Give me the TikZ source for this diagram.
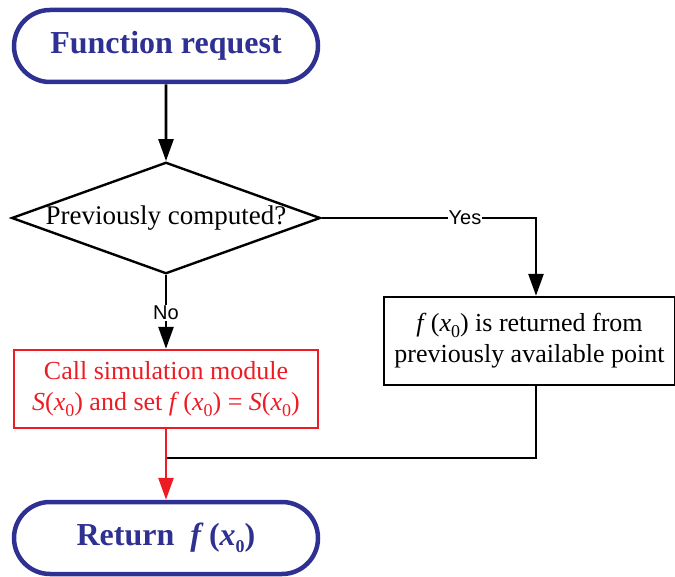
\documentclass[tikz,border=0pt]{standalone}
\usepackage{fontspec}
\setmainfont{Liberation Serif}
\setsansfont{Liberation Sans}
\usetikzlibrary{shapes.geometric,shapes.misc,arrows.meta}
\definecolor{tblue}{HTML}{2E3192}
\definecolor{tred}{HTML}{ED1C24}
\newcommand{\subz}{\raisebox{-0.5ex}{\fontsize{18}{18}\selectfont 0}}
\newcommand{\fxo}{\textit{f}\,(\textit{x}\subz)}
\newcommand{\Sxo}{\textit{S}(\textit{x}\subz)}
\begin{document}
\begin{tikzpicture}[x=1pt,y=-1pt,
  term/.style={rounded rectangle, draw=tblue, line width=4.5pt, text=tblue,
    minimum width=304pt, minimum height=72pt, inner sep=0pt,
    font=\fontsize{32}{36}\selectfont\bfseries},
  decide/.style={diamond, draw, line width=2.4pt, aspect=2.77,
    minimum width=305pt, minimum height=110pt, inner sep=0pt,
    font=\fontsize{27}{30}\selectfont},
  procbox/.style={rectangle, draw, line width=2.4pt, align=center, inner sep=0pt,
    font=\fontsize{26}{31}\selectfont},
  conn/.style={line width=2.6pt},
  arr/.style={conn, -{Triangle[width=15pt,length=22pt]}},
  lbl/.style={fill=white, inner sep=1pt, font=\sffamily\fontsize{20}{21}\selectfont}
]
\useasboundingbox (0,0) rectangle (675,577);
\node[term] (start) at (166,46) {Function request};
\node[decide] (dec) at (166,218) {Previously computed?};
\node[procbox, draw=tred, text=tred, minimum width=304pt, minimum height=78pt] (sim) at (166,389)
  {Call simulation module\\ \Sxo{} and set \fxo{} = \Sxo};
\node[procbox, minimum width=291pt, minimum height=88pt] (prev) at (529.5,341)
  {\fxo{} is returned from\\ previously available point};
\node[term] (ret) at (166,538) {Return\ \ \fxo};
\coordinate (yc) at (536,218);
\coordinate (j) at (166,458);
\draw[arr] (start) -- (dec);
\draw[arr] (dec.east) -- (yc) -- (prev.north -| yc);
\node[lbl] (yeslbl) at (465,218) {Yes};
\draw[arr] (dec.south) -- (sim.north);
\node[lbl] (nolbl) at (166,313) {No};
\draw[conn] (prev.south -| yc) |- (j);
\draw[arr, draw=tred, fill=tred] (sim.south) -- (ret.north);
\end{tikzpicture}
\end{document}
